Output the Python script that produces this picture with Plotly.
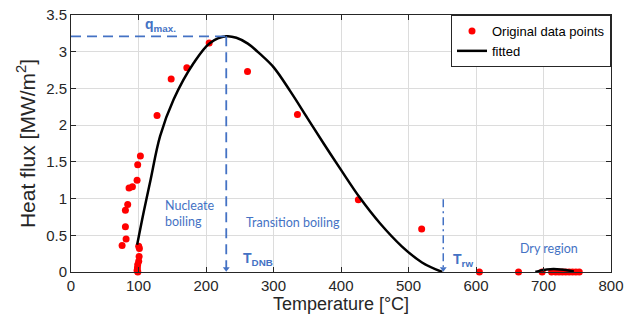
import plotly.graph_objects as go

# Measured boiling-curve points (temperature in °C, heat flux in MW/m²)
temp_points = [75.7, 80.6, 80.6, 81.6, 84, 86, 91, 97.9, 98.8, 102.8,
               127.5, 148.4, 171.6, 204.7, 261.5, 335.5, 425.7, 519.5,
               97.9, 98.4, 98.8, 99.0, 100.3, 100.9, 101.3, 100.3,
               605, 663, 698, 712, 718, 723, 728, 733, 738, 743, 748, 753]
flux_points = [0.36, 0.615, 0.84, 0.45, 0.92, 1.145, 1.16, 1.25, 1.46, 1.58,
               2.13, 2.63, 2.78, 3.12, 2.73, 2.145, 0.985, 0.585,
               0.02, 0.055, 0.10, 0.0, 0.145, 0.21, 0.32, 0.35,
               0, 0, 0, 0, 0, 0, 0, 0, 0, 0, 0, 0]

# Fitted curve: nucleate + transition boiling branch, then the dry-region branch
fit_temp = [98, 108, 118, 132, 152, 182, 206, 230, 245, 262, 280, 300,
            325, 350, 375, 400, 428, 458, 490, 520, 550]
fit_flux = [0.37, 0.83, 1.26, 1.85, 2.35, 2.85, 3.12, 3.21, 3.19, 3.11, 2.97,
            2.79, 2.46, 2.10, 1.74, 1.39, 1.01, 0.66, 0.35, 0.13, 0.0]
dry_temp = [688, 696, 705, 715, 725, 735, 745]
dry_flux = [0.0, 0.022, 0.035, 0.04, 0.035, 0.024, 0.008]

# Characteristic values
q_max = 3.21
t_dnb = 230
t_rw = 551.5

x_ticks = [0, 100, 200, 300, 400, 500, 600, 700, 800]
y_ticks = [0, 0.5, 1, 1.5, 2, 2.5, 3, 3.5]

BLUE = "#4472C4"
AX_FONT = "Liberation Sans, Arial, sans-serif"
TXT_FONT = dict(family="Lato, 'Open Sans', sans-serif", size=12.5, color=BLUE)
SYM_FONT = dict(family=AX_FONT, size=14, color=BLUE)

fig = go.Figure()

fig.add_trace(go.Scatter(
    x=temp_points, y=flux_points, mode="markers",
    marker=dict(color="#ff0000", size=7),
    name="Original data points", cliponaxis=False,
))
fig.add_trace(go.Scatter(
    x=fit_temp + [None] + dry_temp, y=fit_flux + [None] + dry_flux,
    mode="lines", line=dict(color="black", width=2.5, shape="spline", smoothing=1.0),
    name="fitted", connectgaps=False,
))

# Dashed guide lines
fig.add_shape(type="line", x0=0, x1=t_dnb, y0=q_max, y1=q_max,
              line=dict(color=BLUE, width=1.8, dash="10px,6px"))
fig.add_shape(type="line", x0=t_dnb, x1=t_dnb, y0=q_max, y1=0.03,
              line=dict(color=BLUE, width=1.8, dash="10px,6px"))
fig.add_shape(type="line", x0=t_rw, x1=t_rw, y0=0.99, y1=0.03,
              line=dict(color=BLUE, width=1.5, dash="8px,4px,2px,4px"))

# Arrowheads at the bottom of the vertical guides
fig.add_trace(go.Scatter(
    x=[t_dnb, t_rw], y=[0.045, 0.045], mode="markers", showlegend=False,
    marker=dict(symbol="triangle-down", size=6, color=BLUE), hoverinfo="skip",
))

labels = [
    (107, 3.37, "<b>q<sub>max.</sub></b>", SYM_FONT),
    (135.8, 0.79, "Nucleate<br>boiling", TXT_FONT),
    (257, 0.67, "Transition boiling", TXT_FONT),
    (252, 0.18, "<b>T<sub>DNB</sub></b>", SYM_FONT),
    (563, 0.16, "<b>T<sub>rw</sub></b>", SYM_FONT),
    (661.5, 0.315, "Dry region", TXT_FONT),
]
for xv, yv, txt, fnt in labels:
    fig.add_annotation(x=xv, y=yv, text=txt, showarrow=False, xanchor="left",
                       yanchor="middle", align="left", font=fnt)

axis_common = dict(
    showgrid=True, gridcolor="#dcdcdc", gridwidth=1,
    showline=True, linecolor="#262626", linewidth=1, mirror="ticks",
    ticks="inside", ticklen=5, tickcolor="#262626", zeroline=False,
    automargin=False,
    tickfont=dict(family=AX_FONT, size=15, color="#262626"),
)

fig.update_layout(
    width=626, height=324,
    margin=dict(l=71, r=15, t=15, b=52),
    paper_bgcolor="white", plot_bgcolor="white",
    font=dict(family=AX_FONT, color="#262626"),
    xaxis=dict(range=[0, 800], tickvals=x_ticks,
               title=dict(text="Temperature [°C]", font=dict(size=18), standoff=4),
               **axis_common),
    yaxis=dict(range=[0, 3.5], tickvals=y_ticks, ticktext=[f"{v:g}" for v in y_ticks],
               title=dict(text="Heat flux [MW/m<sup>2</sup>]", font=dict(size=21), standoff=4),
               **axis_common),
    legend=dict(x=1, y=1, xanchor="right", yanchor="top",
                bgcolor="white", bordercolor="#262626", borderwidth=1,
                font=dict(size=13, color="black"),
                tracegroupgap=0, itemwidth=30),
    showlegend=True,
)

fig.write_html("out.html")
